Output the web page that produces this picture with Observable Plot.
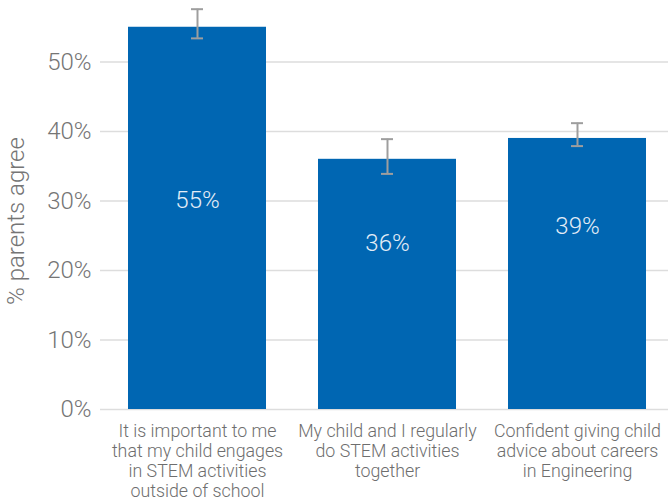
<!DOCTYPE html>
<html><head><meta charset="utf-8">
<script src="https://cdn.jsdelivr.net/npm/d3@7"></script>
<script src="https://cdn.jsdelivr.net/npm/@observablehq/plot@0.6"></script>
<style>
body{margin:0;background:#fff}
svg{font-family:Roboto,"Noto Sans",sans-serif;font-weight:300}
</style>
</head><body><div id="chart"></div>
<script>
const categories = [
  "It is important to me that my child engages in STEM activities outside of school",
  "My child and I regularly do STEM activities together",
  "Confident giving child advice about careers in Engineering"
];
const tickLabels = [
  "It is important to me\nthat my child engages\nin STEM activities\noutside of school",
  "My child and I regularly\ndo STEM activities\ntogether",
  "Confident giving child\nadvice about careers\nin Engineering"
];
const values = [55, 36, 39];
const errLow = [53.4, 33.9, 37.9];
const errHigh = [57.6, 38.9, 41.2];
const labelAt = [30.1, 23.9, 26.3];
const yTicks = [0, 10, 20, 30, 40, 50];
const yLabel = "% parents agree";

const data = categories.map((c, i) => ({cat: c, value: values[i], lo: errLow[i], hi: errHigh[i], lab: labelAt[i], text: values[i] + "%"}));
const tickMap = new Map(categories.map((c, i) => [c, tickLabels[i]]));

const chart = Plot.plot({
  width: 668,
  height: 500,
  marginLeft: 100,
  marginRight: 0,
  marginTop: 0,
  marginBottom: 91,
  style: {fontFamily: "Roboto", fontWeight: 300, background: "#fff"},
  x: {domain: categories, paddingInner: 0.276, paddingOuter: 0.13, align: 0.55},
  y: {domain: [0, 58.85]},
  marks: [
    Plot.gridY(yTicks, {stroke: "#dddddd", strokeOpacity: 1, strokeWidth: 1.5}),
    Plot.axisY(yTicks, {tickSize: 0, tickPadding: 9, fontSize: 24, fill: "#757575", tickFormat: d => d + "%", label: null}),
    Plot.axisX({tickSize: 0, tickPadding: 13, fontSize: 17.8, fill: "#6e6e6e", lineHeight: 1.124, tickFormat: d => tickMap.get(d), label: null}),
    Plot.barY(data, {x: "cat", y: "value", fill: "#0066b2"}),
    Plot.ruleX(data, {x: "cat", y1: "lo", y2: "hi", stroke: "#9e9e9e", strokeWidth: 2}),
    Plot.tickY(data, {x: "cat", y: "lo", stroke: "#9e9e9e", strokeWidth: 2, insetLeft: 63, insetRight: 63}),
    Plot.tickY(data, {x: "cat", y: "hi", stroke: "#9e9e9e", strokeWidth: 2, insetLeft: 63, insetRight: 63}),
    Plot.text(data, {x: "cat", y: "lab", text: "text", fill: "#e4edf7", fontSize: 24}),
    Plot.text([yLabel], {frameAnchor: "left", textAnchor: "middle", rotate: -90, dx: -84, dy: 16, fontSize: 24, fill: "#757575"})
  ]
});
document.getElementById("chart").appendChild(chart);
</script>
</body></html>
